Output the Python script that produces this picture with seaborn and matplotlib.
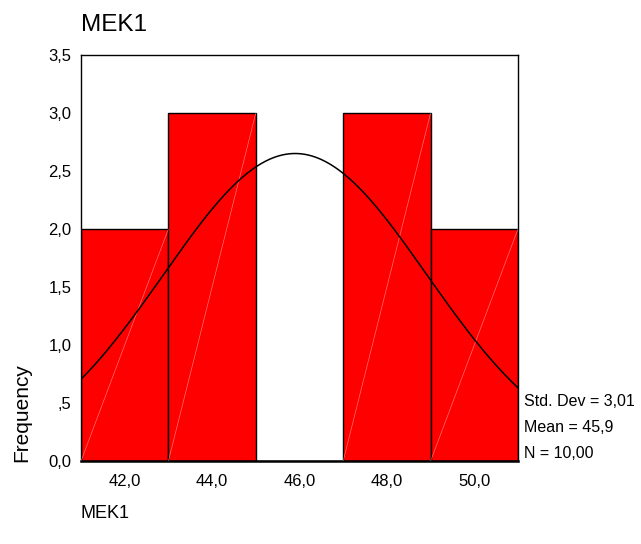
import numpy as np
import pandas as pd
import matplotlib
matplotlib.use("Agg")
import matplotlib.pyplot as plt
import seaborn as sns

# Histogram of MEK1 values
bin_edges = [41, 43, 45, 47, 49, 51]
bin_centers = [42, 44, 46, 48, 50]
counts = [2, 3, 0, 3, 2]

# Summary statistics shown beside the plot
std_dev = 3.01
mean = 45.9
n = 10

x_ticks = [42, 44, 46, 48, 50]
x_tick_labels = ["42,0", "44,0", "46,0", "48,0", "50,0"]
y_ticks = [0, 0.5, 1.0, 1.5, 2.0, 2.5, 3.0, 3.5]
y_tick_labels = ["0,0", ",5", "1,0", "1,5", "2,0", "2,5", "3,0", "3,5"]

sns.set_style("white")
plt.rcParams["font.family"] = ["Liberation Sans", "DejaVu Sans"]
plt.rcParams["text.color"] = "black"
plt.rcParams["xtick.color"] = "black"
plt.rcParams["ytick.color"] = "black"

fig = plt.figure(figsize=(6.41, 5.44), dpi=100)
ax = fig.add_axes([81 / 641, 1 - 461 / 544, (518 - 81) / 641, (461 - 55) / 544])

df = pd.DataFrame({"MEK1": bin_centers, "count": counts})
sns.histplot(data=df, x="MEK1", weights="count", bins=bin_edges,
             color="#ff0000", alpha=1.0, edgecolor="black", linewidth=1.0, ax=ax)

# Thin light diagonals across each bar
for left, right, h in zip(bin_edges[:-1], bin_edges[1:], counts):
    if h > 0:
        ax.plot([left, right], [0, h], color="white", lw=0.5, alpha=0.45, zorder=3)

# Normal curve scaled to counts
bw = bin_edges[1] - bin_edges[0]
xs = np.linspace(bin_edges[0], bin_edges[-1], 400)
ys = n * bw / (std_dev * np.sqrt(2 * np.pi)) * np.exp(-0.5 * ((xs - mean) / std_dev) ** 2)
sns.lineplot(x=xs, y=ys, color="black", lw=1.1, ax=ax, zorder=4)

ax.set_xlim(bin_edges[0], bin_edges[-1])
ax.set_ylim(0, 3.5)
ax.set_xticks(x_ticks)
ax.set_xticklabels(x_tick_labels, fontsize=12)
ax.set_yticks(y_ticks)
ax.set_yticklabels(y_tick_labels, fontsize=12)
ax.tick_params(axis="y", direction="out", length=5, width=1, pad=2)
ax.tick_params(axis="x", direction="out", length=3, width=1, pad=6)
for s in ax.spines.values():
    s.set_color("black")
    s.set_linewidth(1.0)
ax.spines["bottom"].set_linewidth(1.8)
ax.set_xlabel("")
ax.set_ylabel("")

fig.text(81 / 641, 1 - 25 / 544, "MEK1", fontsize=17.5, ha="left", va="center")
fig.text(81 / 641, 1 - 514 / 544, "MEK1", fontsize=13, ha="left", va="center")
fig.text(22 / 641, 1 - 462 / 544, "Frequency", fontsize=15, rotation=90,
         ha="center", va="bottom")

stats = [f"Std. Dev = {std_dev:.2f}".replace(".", ",").replace("Std, ", "Std. "),
         f"Mean = {mean:.1f}".replace(".", ","),
         f"N = {n:.2f}".replace(".", ",")]
for i, t in enumerate(stats):
    fig.text(524 / 641, 1 - (402 + 25.5 * i) / 544, t, fontsize=11.5, ha="left", va="center")

fig.savefig("out.png", dpi=100)
